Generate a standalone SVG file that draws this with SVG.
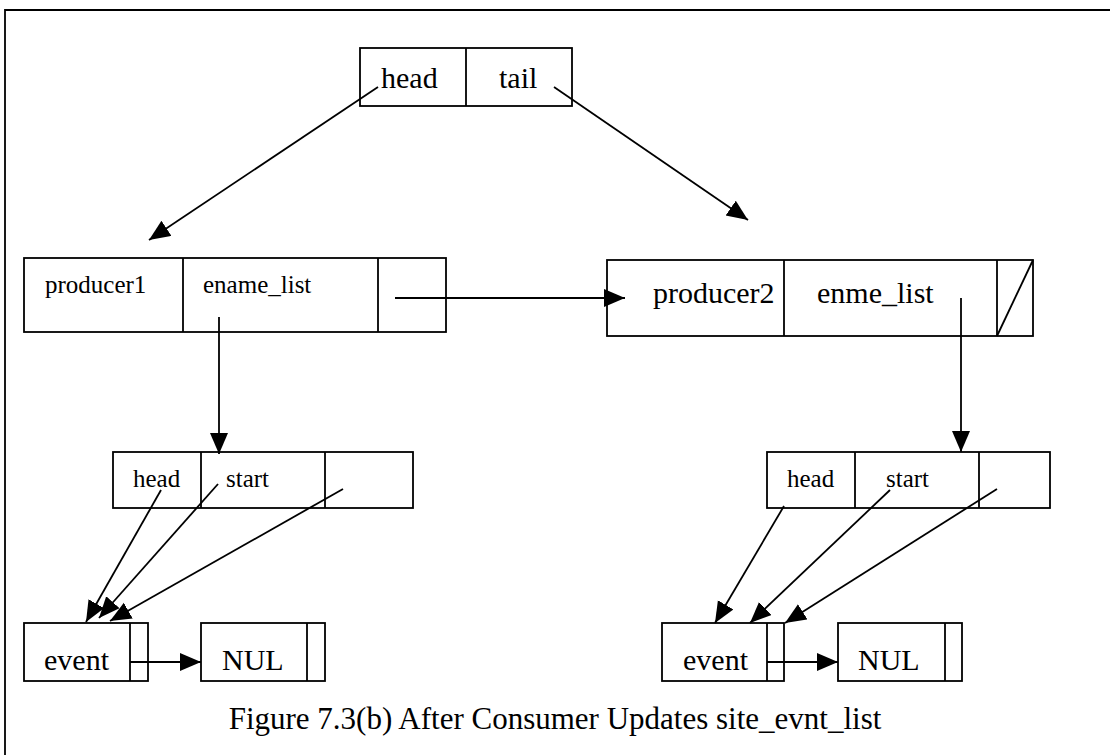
<svg xmlns="http://www.w3.org/2000/svg" width="1110" height="755" viewBox="0 0 1110 755">
  <style>
    .box { fill: none; stroke: #000; stroke-width: 1.8; }
    .ln { stroke: #000; stroke-width: 1.8; fill: none; }
    .arr { stroke: #000; stroke-width: 1.8; fill: none; marker-end: url(#tip); }
    .big { font-family: "Liberation Serif", "Times New Roman", serif; font-size: 30px; fill: #000; }
    .sm { font-family: "Liberation Serif", "Times New Roman", serif; font-size: 25px; fill: #000; }
    .cap { font-family: "Liberation Serif", "Times New Roman", serif; font-size: 31px; fill: #000; }
  </style>
  <defs>
    <marker id="tip" markerUnits="userSpaceOnUse" markerWidth="24" markerHeight="20" refX="21" refY="9" orient="auto">
      <path d="M0,0 L21,9 L0,18 z" fill="#000"/>
    </marker>
  </defs>

  <rect width="1110" height="755" fill="#fff"/>
  <!-- page frame -->
  <path class="ln" d="M5,755 V10 H1110" stroke-width="2.4"/>

  <!-- list header -->
  <g id="header">
    <rect class="box" x="360" y="48" width="212" height="58"/>
    <line class="ln" x1="466" y1="48" x2="466" y2="106"/>
    <text class="big" x="381" y="88">head</text>
    <text class="big" x="499" y="88">tail</text>
  </g>

  <!-- producer records -->
  <g id="producer1">
    <rect class="box" x="24" y="258" width="422" height="74"/>
    <line class="ln" x1="183" y1="258" x2="183" y2="332"/>
    <line class="ln" x1="378" y1="258" x2="378" y2="332"/>
    <text class="sm" x="45" y="293">producer1</text>
    <text class="sm" x="203" y="293">ename_list</text>
  </g>
  <g id="producer2">
    <rect class="box" x="607" y="260" width="426" height="76"/>
    <line class="ln" x1="784" y1="260" x2="784" y2="336"/>
    <line class="ln" x1="997" y1="260" x2="997" y2="336"/>
    <line class="ln" x1="997" y1="336" x2="1033" y2="260"/>
    <text class="big" x="653" y="303">producer2</text>
    <text class="big" x="817" y="303">enme_list</text>
  </g>

  <!-- event list headers -->
  <g id="elist1">
    <rect class="box" x="113" y="452" width="300" height="56"/>
    <line class="ln" x1="201" y1="452" x2="201" y2="508"/>
    <line class="ln" x1="325" y1="452" x2="325" y2="508"/>
    <text class="sm" x="133" y="487">head</text>
    <text class="sm" x="226" y="487">start</text>
  </g>
  <g id="elist2">
    <rect class="box" x="767" y="452" width="283" height="56"/>
    <line class="ln" x1="855" y1="452" x2="855" y2="508"/>
    <line class="ln" x1="979" y1="452" x2="979" y2="508"/>
    <text class="sm" x="787" y="487">head</text>
    <text class="sm" x="886" y="487">start</text>
  </g>

  <!-- event nodes -->
  <g id="event1">
    <rect class="box" x="24" y="623" width="124" height="58"/>
    <line class="ln" x1="130" y1="623" x2="130" y2="681"/>
    <text class="big" x="44" y="670">event</text>
  </g>
  <g id="nul1">
    <rect class="box" x="201" y="623" width="124" height="58"/>
    <line class="ln" x1="307" y1="623" x2="307" y2="681"/>
    <text class="big" x="222" y="670">NUL</text>
  </g>
  <g id="event2">
    <rect class="box" x="662" y="623" width="122" height="58"/>
    <line class="ln" x1="767" y1="623" x2="767" y2="681"/>
    <text class="big" x="683" y="670">event</text>
  </g>
  <g id="nul2">
    <rect class="box" x="838" y="623" width="124" height="58"/>
    <line class="ln" x1="945" y1="623" x2="945" y2="681"/>
    <text class="big" x="858" y="670">NUL</text>
  </g>

  <!-- pointers -->
  <g id="connectors">
    <line class="arr" x1="378" y1="87" x2="149" y2="240"/>
    <line class="arr" x1="554" y1="87" x2="748" y2="220"/>
    <line class="arr" x1="395" y1="298" x2="625" y2="298"/>
    <line class="arr" x1="219" y1="317" x2="219" y2="454"/>
    <line class="arr" x1="961" y1="298" x2="961" y2="452"/>

    <line class="arr" x1="161" y1="490" x2="86" y2="622"/>
    <line class="arr" x1="218" y1="484" x2="99" y2="618"/>
    <line class="arr" x1="343" y1="489" x2="110" y2="621"/>

    <line class="arr" x1="784" y1="506" x2="715" y2="623"/>
    <line class="arr" x1="890" y1="490" x2="750" y2="623"/>
    <line class="arr" x1="997" y1="489" x2="785" y2="623"/>

    <line class="arr" x1="130" y1="662" x2="201" y2="662"/>
    <line class="arr" x1="767" y1="662" x2="838" y2="662"/>
  </g>

  <text class="cap" x="555" y="729" text-anchor="middle">Figure 7.3(b) After Consumer Updates site_evnt_list</text>
</svg>
